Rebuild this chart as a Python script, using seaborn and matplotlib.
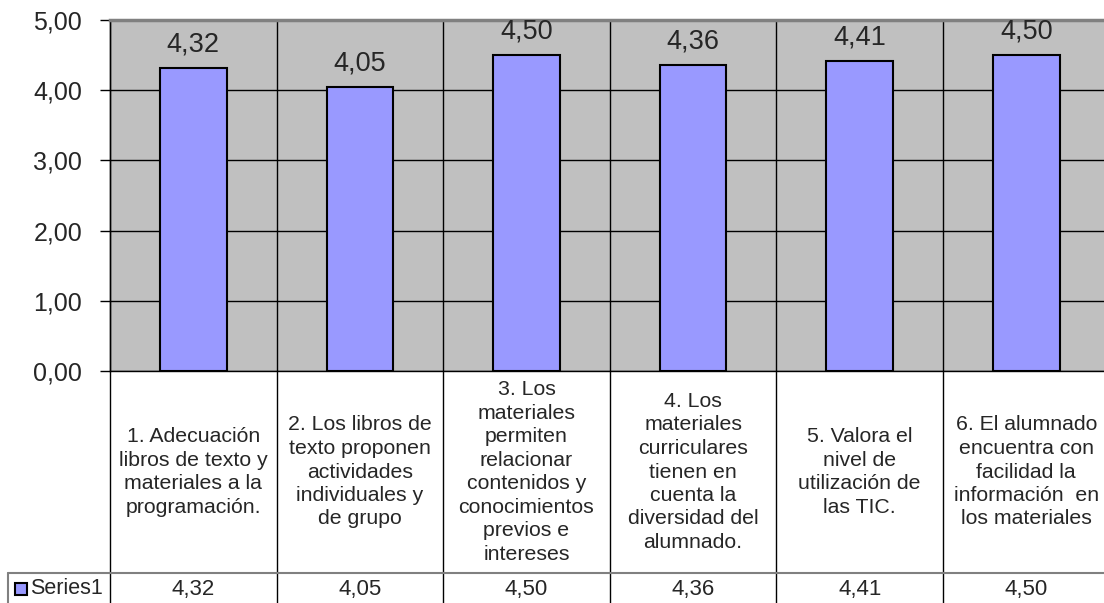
import matplotlib
matplotlib.use("Agg")
import matplotlib.pyplot as plt
import seaborn as sns
import pandas as pd
from matplotlib import transforms
from matplotlib.lines import Line2D
from matplotlib.patches import Rectangle

# ---- data ----
categories = [
    "1. Adecuación\nlibros de texto y\nmateriales a la\nprogramación.",
    "2. Los libros de\ntexto proponen\nactividades\nindividuales y\nde grupo",
    "3. Los\nmateriales\npermiten\nrelacionar\ncontenidos y\nconocimientos\nprevios e\nintereses",
    "4. Los\nmateriales\ncurriculares\ntienen en\ncuenta la\ndiversidad del\nalumnado.",
    "5. Valora el\nnivel de\nutilización de\nlas TIC.",
    "6. El alumnado\nencuentra con\nfacilidad la\ninformación  en\nlos materiales",
]
values = [4.32, 4.05, 4.50, 4.36, 4.41, 4.50]
series_name = "Series1"
yticks = [0, 1, 2, 3, 4, 5]
ytick_labels = ["0,00", "1,00", "2,00", "3,00", "4,00", "5,00"]


def fmt(v):
    return f"{v:.2f}".replace(".", ",")


sns.set_style("white")
plt.rcParams['font.family'] = ['Liberation Sans', 'DejaVu Sans']

W, H = 1104, 603
fig = plt.figure(figsize=(W / 100, H / 100), dpi=100)
left, top, bottom = 110, 20, 371
catw = 166.6
right = left + 6 * catw


def fy(px):
    return 1 - px / H


ax = fig.add_axes([left / W, 1 - bottom / H, (right - left) / W, (bottom - top) / H])
ax.set_facecolor('#C0C0C0')

df = pd.DataFrame({'cat': categories, 'val': values})
sns.barplot(data=df, x='cat', y='val', color='#9999FF', saturation=1,
            edgecolor='black', linewidth=1.5, width=0.4, ax=ax, zorder=3)

ax.set_ylim(0, 5)
ax.set_xlim(-0.5, 5.5)
ax.set_yticks(yticks)
ax.set_yticklabels(ytick_labels)
ax.set_xticks([])
ax.set_xlabel('')
ax.set_ylabel('')
ax.yaxis.grid(True, color='black', lw=1)
ax.set_axisbelow(True)
ax.tick_params(axis='y', direction='out', length=7, width=1, color='black',
               pad=13, labelsize=18, left=True)

for s in ['left', 'bottom']:
    ax.spines[s].set_color('black')
    ax.spines[s].set_linewidth(1)
ax.spines['top'].set_color('#808080')
ax.spines['top'].set_linewidth(2.5)
ax.spines['right'].set_visible(False)

trans = transforms.blended_transform_factory(ax.transData, fig.transFigure)

# vertical grid / table lines at category boundaries
for k in range(7):
    ax.add_line(Line2D([k - 0.5, k - 0.5], [fy(top), 0], transform=trans,
                       color='black', lw=1, clip_on=False, zorder=2))

# value labels above bars
for i, v in enumerate(values):
    ax.annotate(fmt(v), (i, v), xytext=(0, 12), textcoords='offset points',
                ha='center', va='baseline', fontsize=19.5)

# category labels in table
for i, c in enumerate(categories):
    ax.text(i, fy(472), c, transform=trans, ha='center', va='center',
            fontsize=15.3, multialignment='center', linespacing=1.3)

# value row
for i, v in enumerate(values):
    ax.text(i, fy(589), fmt(v), transform=trans, ha='center', va='center', fontsize=16)

fig.add_artist(Line2D([8 / W, 1], [fy(573), fy(573)], transform=fig.transFigure,
                      color='#808080', lw=1.5))
fig.add_artist(Line2D([8 / W, 8 / W], [fy(573), 0], transform=fig.transFigure,
                      color='#808080', lw=1.5))
fig.add_artist(Rectangle((15 / W, fy(595)), 12 / W, 12 / H, transform=fig.transFigure,
                         facecolor='#9999FF', edgecolor='black', lw=1.5))
fig.text(30 / W, fy(589), series_name, ha='left', va='center', fontsize=15.5)

fig.savefig("out.png", dpi=100)
